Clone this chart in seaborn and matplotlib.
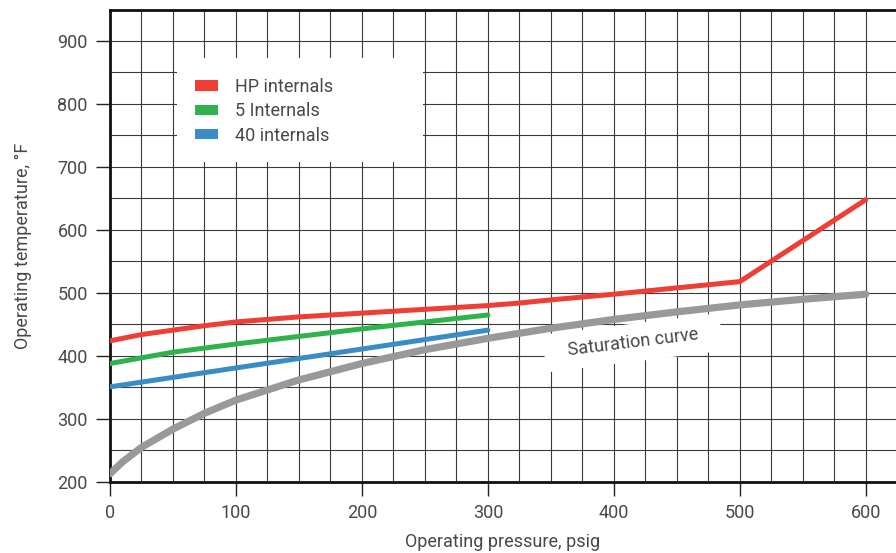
import numpy as np
import pandas as pd
import matplotlib
matplotlib.use("Agg")
import matplotlib.pyplot as plt
from matplotlib.patches import Rectangle, Patch
import seaborn as sns

# data (pressure in psig, temperature in F)
hp_p = [0, 25, 50, 75, 100, 150, 200, 250, 300, 325, 350, 400, 450, 500, 600]
hp_t = [424, 434, 441, 448, 454, 462, 468, 474, 480, 484, 489, 498, 508, 518, 648]

five_p = [0, 50, 100, 150, 200, 250, 300]
five_t = [388, 406, 419, 431, 443, 454, 465]

forty_p = [0, 50, 100, 150, 200, 250, 300]
forty_t = [351, 366, 381, 396, 411, 426, 441]

sat_p = [0, 10, 25, 50, 75, 100, 150, 200, 250, 300, 350, 400, 450, 500, 550, 600]
sat_t = [213, 232, 255, 284, 309, 330, 362, 388, 410, 428, 444, 458, 470, 481, 490, 498]

labels = ["HP internals", "5 Internals", "40 internals"]
colors = ["#ee3e35", "#2fb24c", "#3a8cc7"]
sat_color = "#999999"
text_color = "#484848"

sns.set_style("white")
plt.rcParams["font.family"] = ["Roboto", "DejaVu Sans"]

fig = plt.figure(figsize=(8.96, 5.53), dpi=100)
ax = fig.add_axes([110 / 896, 1 - 482 / 553, 786 / 896, 472 / 553])

sat = pd.DataFrame({"p": sat_p, "t": sat_t})
sns.lineplot(data=sat, x="p", y="t", ax=ax, color=sat_color, lw=5.2, zorder=3,
             solid_capstyle="round")

series = [(hp_p, hp_t), (five_p, five_t), (forty_p, forty_t)]
for (px, ty), lab, c in zip(series, labels, colors):
    df = pd.DataFrame({"p": px, "t": ty})
    sns.lineplot(data=df, x="p", y="t", ax=ax, color=c, lw=3.6, zorder=4,
                 solid_capstyle="round")

ax.set_xlim(0, 624)
ax.set_ylim(200, 949)
ax.set_xticks(np.arange(0, 601, 100))
ax.set_xticks(np.arange(0, 625, 25), minor=True)
ax.set_yticks(np.arange(200, 901, 100))
ax.set_yticks(np.arange(200, 950, 50), minor=True)
ax.set_axisbelow(True)
ax.grid(which="both", color="#3a3a3a", lw=0.8)
ax.tick_params(which="major", direction="out", length=10, width=1, color="#222222",
               labelsize=13, labelcolor=text_color, pad=6, left=True, bottom=True)
ax.tick_params(which="minor", length=0)

for side in ["left", "bottom", "top"]:
    ax.spines[side].set_color("#111111")
    ax.spines[side].set_linewidth(2)
ax.spines["right"].set_visible(False)

ax.set_xlabel("Operating pressure, psig", fontsize=13, color=text_color, labelpad=8)
ax.set_ylabel("Operating temperature, °F", fontsize=13, color=text_color, labelpad=18)

# white panel behind the legend
ax.add_patch(Rectangle((67 / 786, 320 / 472), 246 / 786, 104 / 472,
                       transform=ax.transAxes, facecolor="white", edgecolor="none",
                       zorder=1.5))
handles = [Patch(facecolor=c, edgecolor="none") for c in colors]
ax.legend(handles, labels, loc="upper left", bbox_to_anchor=(85 / 786, 404 / 472),
          frameon=False, fontsize=13, labelcolor=text_color, handlelength=1.25,
          handleheight=0.5, handletextpad=0.95, labelspacing=0.35,
          borderpad=0, borderaxespad=0)

ax.text(415, 421, "   Saturation curve   ", rotation=7, fontsize=13, color=text_color,
        ha="center", va="center", rotation_mode="anchor", zorder=2,
        bbox=dict(boxstyle="square,pad=0.55", facecolor="white", edgecolor="none"))

fig.savefig("out.png", dpi=100)
